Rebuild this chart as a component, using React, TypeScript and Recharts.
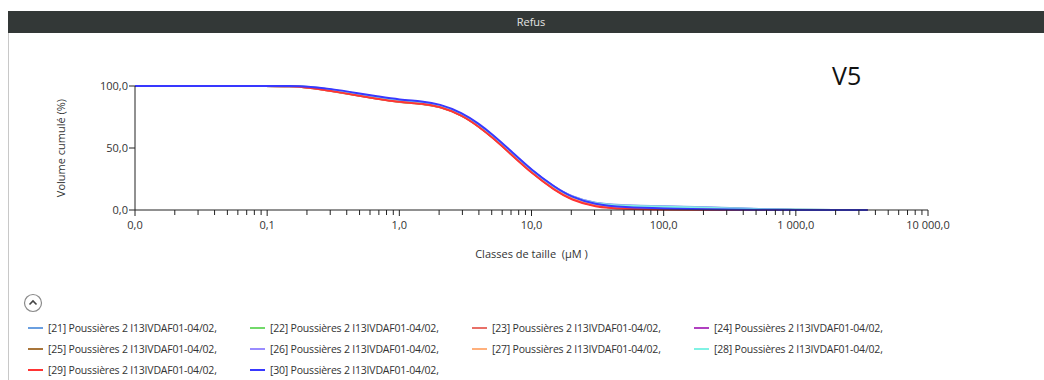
import { LineChart, Line, XAxis, YAxis, Label } from 'recharts';

// particle sizes (µm)
const sizes = [0.01, 0.05, 0.1, 0.15, 0.2, 0.3, 0.5, 0.7, 1, 1.5, 2, 3, 4, 5, 7, 10, 15, 20, 30, 50, 100, 200, 500, 1000, 2000, 3500];

// cumulative volume (%) per measurement
const s21 = [100, 100, 100, 99.9, 99.4, 97.2, 93.2, 90.6, 88.2, 86.8, 84.8, 77.6, 68.6, 60.6, 46.8, 31.6, 18.2, 10.6, 5.2, 3.6, 3.0, 2.4, 0.8, 0.2, 0, 0];
const s22 = [100, 100, 100, 99.9, 99.3, 96.8, 92.8, 90.2, 87.8, 86.4, 84.4, 77.2, 68.2, 60.2, 46.4, 31.2, 17.6, 10.0, 4.6, 3.0, 2.4, 1.8, 0.5, 0.1, 0, 0];
const s23 = [100, 100, 100, 99.8, 99.1, 96.4, 92.2, 89.6, 87.2, 85.8, 83.8, 76.6, 67.4, 59.4, 45.4, 30.2, 16.4, 8.8, 3.0, 1.2, 0.6, 0.3, 0.1, 0, 0, 0];
const s24 = [100, 100, 100, 99.9, 99.4, 97.0, 93.0, 90.4, 88.0, 86.6, 84.6, 77.4, 68.4, 60.4, 46.6, 31.4, 17.8, 10.2, 4.4, 2.4, 1.6, 1.0, 0.3, 0, 0, 0];
const s25 = [100, 100, 100, 99.8, 99.0, 96.2, 92.0, 89.4, 87.0, 85.6, 83.6, 76.4, 67.2, 59.2, 45.2, 30.0, 16.2, 8.6, 3.0, 1.2, 0.6, 0.3, 0.1, 0, 0, 0];
const s26 = [100, 100, 100, 99.9, 99.5, 97.4, 93.4, 90.8, 88.4, 87.0, 85.0, 77.8, 68.8, 60.8, 47.0, 31.8, 18.4, 10.8, 5.0, 3.4, 2.8, 2.2, 0.7, 0.1, 0, 0];
const s27 = [100, 100, 100, 99.8, 99.1, 96.5, 92.4, 89.8, 87.4, 86.0, 84.0, 76.8, 67.6, 59.6, 45.6, 30.4, 16.6, 9.0, 3.4, 1.6, 1.0, 0.5, 0.1, 0, 0, 0];
const s28 = [100, 100, 100, 99.9, 99.4, 97.1, 93.1, 90.5, 88.1, 86.7, 84.7, 77.5, 68.5, 60.5, 46.7, 31.5, 18.0, 10.4, 4.8, 3.2, 2.6, 2.0, 0.6, 0.1, 0, 0];
const s29 = [100, 100, 100, 99.8, 99.0, 96.3, 92.1, 89.5, 87.1, 85.7, 83.7, 76.5, 67.2, 59.0, 45.0, 29.8, 15.8, 8.2, 2.4, 0.8, 0.3, 0.1, 0, 0, 0, 0];
const s30 = [100, 100, 100, 100, 99.7, 97.8, 94.0, 91.5, 89.0, 87.6, 85.6, 78.5, 69.5, 61.5, 47.6, 32.2, 18.4, 10.4, 4.4, 2.2, 1.2, 0.6, 0.2, 0, 0, 0];

const seriesNames = ['[21]', '[22]', '[23]', '[24]', '[25]', '[26]', '[27]', '[28]', '[29]', '[30]'];
const seriesValues = [s21, s22, s23, s24, s25, s26, s27, s28, s29, s30];
const seriesColors = ['#6a9fe0', '#72d96a', '#e87068', '#b040c0', '#a8753a', '#9a8cff', '#ffb07c', '#80f2e4', '#ff3434', '#3838ff'];
const legendSuffix = ' Poussières 2 I13IVDAF01-04/02,';

const majorTicks = [0.01, 0.1, 1, 10, 100, 1000, 10000];
const majorLabels = ['0,0', '0,1', '1,0', '10,0', '100,0', '1 000,0', '10 000,0'];
const yTicks = [0, 50, 100];
const yLabels = ['0,0', '50,0', '100,0'];

const allTicks: number[] = [];
majorTicks.slice(0, -1).forEach((d) => {
  for (let m = 1; m <= 9; m++) allTicks.push(+(m * d).toPrecision(6));
});
allTicks.push(10000);

const data = sizes.map((size, i) => {
  const row: Record<string, number> = { size };
  seriesNames.forEach((n, k) => {
    row[n] = seriesValues[k][i];
  });
  return row;
});

const font = '"Open Sans", "DejaVu Sans", sans-serif';

const XTick = (props: any) => {
  const { x, y, payload } = props;
  const idx = majorTicks.findIndex((t) => Math.abs(t - payload.value) < 1e-9);
  const major = idx >= 0;
  return (
    <g>
      <line x1={x} x2={x} y1={y} y2={y + (major ? 6 : 5)} stroke="#222" strokeWidth={1} />
      {major && (
        <text x={x} y={y + 19} textAnchor="middle" fontSize={11} fill="#333" fontFamily={font}>
          {majorLabels[idx]}
        </text>
      )}
    </g>
  );
};

const App = () => {
  return (
    <div style={{ position: 'relative', width: 1044, height: 380, background: '#fff', overflow: 'hidden' }}>
      <style>{'body{margin:0;overflow:hidden}'}</style>
      <div
        style={{
          position: 'absolute',
          left: 8,
          top: 11,
          width: 1036,
          height: 22,
          background: '#333837',
          color: '#e4e4e4',
          fontFamily: font,
          fontSize: 11,
          lineHeight: '22px',
          textAlign: 'center',
          paddingLeft: 10,
          boxSizing: 'border-box',
        }}
      >
        Refus
      </div>
      <div style={{ position: 'absolute', left: 8, top: 33, width: 1, height: 347, background: '#c8c8c8' }} />
      <div style={{ position: 'absolute', left: 832, top: 58, fontFamily: font, fontSize: 25, color: '#111' }}>V5</div>

      <div style={{ position: 'absolute', left: 0, top: 0 }}>
        <LineChart width={1044} height={380} data={data} margin={{ top: 86, right: 116, left: 40, bottom: 130 }}>
          <XAxis
            dataKey="size"
            type="number"
            scale="log"
            domain={[0.01, 10000]}
            ticks={allTicks}
            interval={0}
            tick={<XTick />}
            tickLine={false}
            tickSize={0}
            tickMargin={0}
            height={40}
            stroke="#222"
            allowDataOverflow
          >
            <Label
              content={(p: any) => (
                <text
                  x={p.viewBox.x + p.viewBox.width / 2}
                  y={p.viewBox.y + 48}
                  textAnchor="middle"
                  fontSize={11}
                  fill="#333"
                  fontFamily={font}
                  style={{ whiteSpace: 'pre' }}
                >
                  {'Classes de taille  (µM )'}
                </text>
              )}
            />
          </XAxis>
          <YAxis
            type="number"
            domain={[0, 100]}
            ticks={yTicks}
            tickFormatter={(v: number) => yLabels[yTicks.indexOf(v)]}
            width={95}
            tickSize={6}
            tickMargin={1}
            stroke="#222"
            tick={{ fontSize: 11, fill: '#333', fontFamily: font }}
          >
            <Label
              content={(p: any) => {
                const cx = 62;
                const cy = p.viewBox.y + p.viewBox.height / 2;
                return (
                  <text
                    x={cx}
                    y={cy}
                    transform={`rotate(-90 ${cx} ${cy})`}
                    textAnchor="middle"
                    dominantBaseline="middle"
                    fontSize={11}
                    fill="#333"
                    fontFamily={font}
                  >
                    Volume cumulé (%)
                  </text>
                );
              }}
            />
          </YAxis>
          {seriesNames.map((n, k) => (
            <Line
              key={n}
              type="basis"
              dataKey={n}
              stroke={seriesColors[k]}
              strokeWidth={2}
              dot={false}
              isAnimationActive={false}
            />
          ))}
        </LineChart>
      </div>

      <svg style={{ position: 'absolute', left: 23, top: 293 }} width={20} height={20}>
        <circle cx={10} cy={10} r={8.5} fill="#fff" stroke="#8a8a8a" strokeWidth={1.2} />
        <polyline points="6.5,11.5 10,8 13.5,11.5" fill="none" stroke="#444" strokeWidth={1.6} />
      </svg>

      {seriesNames.map((n, k) => {
        const col = k % 4;
        const row = Math.floor(k / 4);
        return (
          <div
            key={n}
            style={{
              position: 'absolute',
              left: 28 + col * 222,
              top: 320 + row * 21,
              height: 16,
              display: 'flex',
              alignItems: 'center',
              fontFamily: font,
              fontSize: 10.5,
              letterSpacing: -0.2,
              color: '#333',
              whiteSpace: 'nowrap',
            }}
          >
            <span style={{ display: 'inline-block', width: 15, height: 2, background: seriesColors[k], marginRight: 5 }} />
            {n + legendSuffix}
          </div>
        );
      })}
    </div>
  );
};

export default App;
